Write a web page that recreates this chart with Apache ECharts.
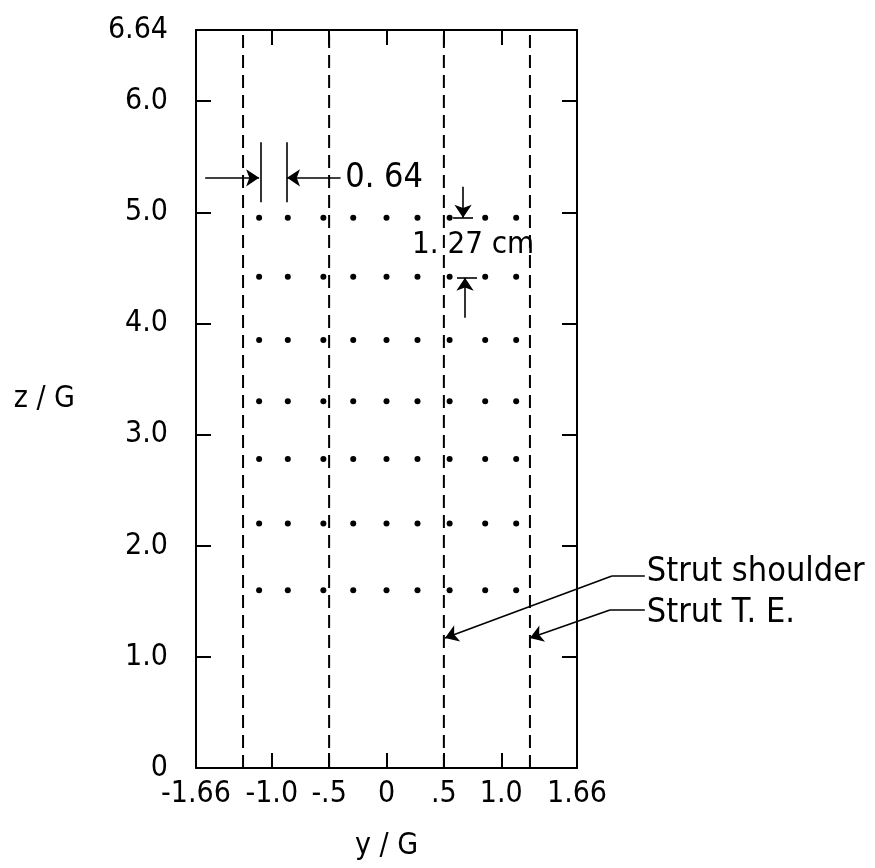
<!DOCTYPE html>
<html>
<head>
<meta charset="utf-8">
<script src="https://cdn.jsdelivr.net/npm/echarts@6/dist/echarts.min.js"></script>
<style>
  html, body { margin: 0; padding: 0; background: #fff; }
  #chart { width: 875px; height: 868px; }
</style>
</head>
<body>
<div id="chart"></div>
<script>
// axis ticks / labels (y/G across, z/G up)
var yTicks = [-1.0, -0.5, 0, 0.5, 1.0];
var yLabels = [-1.66, -1.0, -0.5, 0, 0.5, 1.0, 1.66];
var zTicks = [1, 2, 3, 4, 5, 6];
var zLabels = [0, 1, 2, 3, 4, 5, 6, 6.64];

// probe grid
var probeY = [-1.11, -0.86, -0.55, -0.29, 0, 0.27, 0.55, 0.86, 1.13];
var probeZ = [4.95, 4.42, 3.85, 3.30, 2.78, 2.20, 1.60];

// strut lines
var strutShoulder = [-0.5, 0.5];
var strutTE = [-1.25, 1.25];

var FONT = "'DejaVu Sans Condensed', 'Liberation Sans Narrow', 'DejaVu Sans', sans-serif";

var probes = [];
probeZ.forEach(function (z) {
  probeY.forEach(function (y) { probes.push([y, z]); });
});

function fmtY(v) {
  if (v === 0) return '0';
  var a = Math.abs(v);
  var s = a === 1.66 ? '1.66' : (a === 0.5 ? '.5' : a.toFixed(1));
  return (v < 0 ? '-' : '') + s;
}
function fmtZ(v) {
  if (v === 0) return '0';
  if (v === 6.64) return '6.64';
  return v.toFixed(1);
}

var dashed = strutShoulder.concat(strutTE).map(function (x) {
  return {
    type: 'line',
    data: [[x, 0], [x, 6.64]],
    showSymbol: false,
    silent: true,
    lineStyle: { color: '#000', width: 2, type: [13, 7] }
  };
});

var chart = echarts.init(document.getElementById('chart'));

var xAxisBase = {
  type: 'value', min: -1.66, max: 1.66,
  axisLine: { show: true, onZero: false, lineStyle: { color: '#000', width: 2 } },
  axisTick: { show: true, inside: true, length: 15, customValues: yTicks, lineStyle: { color: '#000', width: 2 } },
  splitLine: { show: false }
};
var yAxisBase = {
  type: 'value', min: 0, max: 6.64,
  axisLine: { show: true, onZero: false, lineStyle: { color: '#000', width: 2 } },
  axisTick: { show: true, inside: true, length: 15, customValues: zTicks, lineStyle: { color: '#000', width: 2 } },
  splitLine: { show: false }
};

option = {
  animation: false,
  backgroundColor: '#fff',
  grid: { left: 196, right: 298, top: 30, bottom: 100, containLabel: false },
  xAxis: [
    echarts.util.merge({
      position: 'bottom',
      name: 'y / G', nameLocation: 'middle', nameGap: 63,
      nameTextStyle: { color: '#000', fontSize: 30, fontFamily: FONT },
      axisLabel: { customValues: yLabels, formatter: fmtY, margin: 11, color: '#000', fontSize: 30, fontFamily: FONT }
    }, xAxisBase, true),
    echarts.util.merge({ position: 'top', axisLabel: { show: false } }, xAxisBase, true)
  ],
  yAxis: [
    echarts.util.merge({
      position: 'left',
      name: 'z / G', nameLocation: 'middle', nameGap: 121, nameRotate: 0,
      nameTextStyle: { color: '#000', fontSize: 30, fontFamily: FONT, padding: [0, 0, 42, 0] },
      axisLine: { lineStyle: { width: 3 } },
      axisLabel: { customValues: zLabels, formatter: fmtZ, margin: 28, color: '#000', fontSize: 30, fontFamily: FONT }
    }, yAxisBase, true),
    echarts.util.merge({ position: 'right', axisLabel: { show: false } }, yAxisBase, true)
  ],
  series: dashed.concat([
    {
      type: 'scatter',
      data: probes,
      symbolSize: 6,
      itemStyle: { color: '#000', opacity: 1 },
      silent: true
    },
    {
      // dimension / leader lines with arrowheads
      type: 'lines',
      coordinateSystem: 'cartesian2d',
      clip: false,
      symbol: ['none', 'arrow'],
      symbolSize: 13,
      lineStyle: { color: '#000', width: 1.6, opacity: 1 },
      silent: true,
      data: [
        { coords: [[-1.58, 5.31], [-1.11, 5.31]] },
        { coords: [[-0.40, 5.31], [-0.867, 5.31]] },
        { coords: [[0.667, 5.23], [0.667, 4.95]] },
        { coords: [[0.684, 4.05], [0.684, 4.41]] },
        { coords: [[1.964, 1.728], [0.51, 1.17]] },
        { coords: [[1.947, 1.422], [1.25, 1.17]] }
      ]
    },
    {
      // extension lines and leader stubs
      type: 'lines',
      coordinateSystem: 'cartesian2d',
      clip: false,
      symbol: 'none',
      lineStyle: { color: '#000', width: 1.6, opacity: 1 },
      silent: true,
      data: [
        { coords: [[-1.10, 5.63], [-1.10, 5.09]] },
        { coords: [[-0.867, 5.63], [-0.867, 5.09]] },
        { coords: [[0.58, 4.95], [0.754, 4.95]] },
        { coords: [[0.614, 4.41], [0.789, 4.41]] },
        { coords: [[2.251, 1.728], [1.964, 1.728]] },
        { coords: [[2.251, 1.422], [1.947, 1.422]] }
      ]
    }
  ])
};

chart.setOption(option, true);

// annotation text placed in data coordinates
var notes = [
  { text: '0. 64', at: [-0.36, 5.31], size: 34 },
  { text: '1. 27 cm', at: [0.222, 4.71], size: 31 },
  { text: 'Strut shoulder', at: [2.268, 1.764], size: 34 },
  { text: 'Strut T. E.', at: [2.268, 1.395], size: 34 }
];

chart.setOption({
  graphic: notes.map(function (n) {
    var p = chart.convertToPixel({ gridIndex: 0 }, n.at);
    return {
      type: 'text', x: p[0], y: p[1], silent: true,
      style: { text: n.text, fill: '#000', fontSize: n.size, fontFamily: FONT, align: 'left', verticalAlign: 'middle' }
    };
  })
});
</script>
</body>
</html>
